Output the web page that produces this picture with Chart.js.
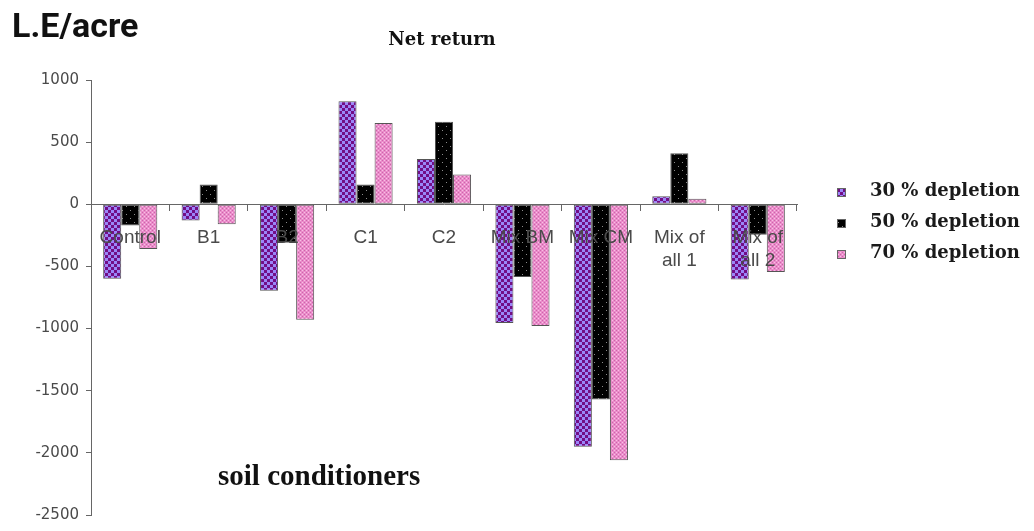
<!DOCTYPE html>
<html>
<head>
<meta charset="utf-8">
<script src="https://cdn.jsdelivr.net/npm/chart.js@4/dist/chart.umd.min.js"></script>
<style>
  html, body { margin: 0; padding: 0; background: #fff; }
  #wrap { width: 1034px; height: 531px; position: relative; }
</style>
</head>
<body>
<div id="wrap"><canvas id="c" width="1034" height="531"></canvas></div>
<script>
// Net return (L.E/acre) per soil conditioner and irrigation depletion level
const categories = ['Control', 'B1', 'B2', 'C1', 'C2', 'Mix BM', 'Mix CM', ['Mix of', 'all 1'], ['Mix of', 'all 2']];
const seriesNames = ['30 % depletion', '50 % depletion', '70 % depletion'];
const depletion30 = [-600, -130, -695, 830, 365, -955, -1950, 65, -605];
const depletion50 = [-170, 160, -310, 160, 665, -585, -1570, 410, -245];
const depletion70 = [-360, -160, -930, 655, 240, -980, -2060, 45, -545];
const yTicks = [1000, 500, 0, -500, -1000, -1500, -2000, -2500];

// small repeating fills for the bars
function makePattern(size, base, draw) {
  const c = document.createElement('canvas');
  c.width = c.height = size;
  const g = c.getContext('2d');
  g.fillStyle = base;
  g.fillRect(0, 0, size, size);
  draw(g);
  return g.createPattern(c, 'repeat');
}
const purpleFill = makePattern(6, '#9a86f8', g => {
  g.fillStyle = '#720e86';
  g.fillRect(0, 0, 3, 3);
  g.fillRect(3, 3, 3, 3);
});
const blackFill = makePattern(8, '#000000', g => {
  g.fillStyle = '#8c8c8c';
  g.fillRect(2, 2, 1, 1);
  g.fillRect(6, 6, 1, 1);
});
const pinkFill = makePattern(4, '#ea8cca', g => {
  g.fillStyle = '#f8c0e4';
  g.fillRect(0, 0, 1, 1);
  g.fillRect(2, 2, 1, 1);
  g.fillStyle = '#cc66aa';
  g.fillRect(2, 0, 1, 1);
  g.fillRect(0, 2, 1, 1);
});

// free-standing texts: axis unit, title, category caption
const chartTexts = {
  id: 'chartTexts',
  afterDraw(chart) {
    const ctx = chart.ctx;
    ctx.save();
    ctx.fillStyle = '#111';
    ctx.textBaseline = 'alphabetic';
    ctx.textAlign = 'left';
    ctx.font = 'bold 34px Roboto';
    ctx.fillText('L.E/acre', 12, 37);
    ctx.textAlign = 'center';
    ctx.font = 'bold 18px "DejaVu Serif"';
    ctx.fillText('Net return', 442, 45);
    ctx.textAlign = 'left';
    ctx.font = 'bold 29px "Liberation Serif"';
    ctx.fillText('soil conditioners', 218, 485);
    ctx.restore();
  }
};

// legend block on the right
const sideLegend = {
  id: 'sideLegend',
  afterDraw(chart) {
    const ctx = chart.ctx;
    ctx.save();
    ctx.font = 'bold 18px "DejaVu Serif"';
    ctx.textBaseline = 'middle';
    ctx.textAlign = 'left';
    chart.data.datasets.forEach((ds, i) => {
      const y = 191 + i * 31;
      ctx.fillStyle = ds.backgroundColor;
      ctx.fillRect(837, y - 3, 9, 9);
      ctx.strokeStyle = '#666';
      ctx.lineWidth = 1;
      ctx.strokeRect(837.5, y - 2.5, 8, 8);
      ctx.fillStyle = '#1a1a1a';
      ctx.fillText(ds.label, 870, y);
    });
    ctx.restore();
  }
};

const barStyle = { borderColor: '#555', borderWidth: 1, borderSkipped: false, categoryPercentage: 0.69, barPercentage: 1.0 };

new Chart(document.getElementById('c'), {
  type: 'bar',
  data: {
    labels: categories,
    datasets: [
      Object.assign({ label: seriesNames[0], data: depletion30, backgroundColor: purpleFill }, barStyle),
      Object.assign({ label: seriesNames[1], data: depletion50, backgroundColor: blackFill }, barStyle),
      Object.assign({ label: seriesNames[2], data: depletion70, backgroundColor: pinkFill }, barStyle)
    ]
  },
  options: {
    responsive: false,
    animation: false,
    devicePixelRatio: 1,
    layout: { padding: { left: 0, right: 237, top: 80, bottom: 13 } },
    plugins: { legend: { display: false }, title: { display: false }, tooltip: { enabled: false } },
    scales: {
      x: {
        type: 'category',
        position: { y: 0 },
        offset: true,
        grid: { drawOnChartArea: false, drawTicks: true, tickLength: 6, color: '#666', offset: true },
        border: { display: true, color: '#666', width: 1, z: 1 },
        ticks: {
          z: 1,
          color: '#4a4a4a',
          font: { family: 'Liberation Sans', size: 19 },
          padding: 16,
          maxRotation: 0,
          autoSkip: false
        }
      },
      y: {
        min: -2500,
        max: 1000,
        afterBuildTicks: s => { s.ticks = yTicks.map(v => ({ value: v })); },
        afterFit: s => { s.width = 91; },
        grid: { drawOnChartArea: false, tickLength: 5, color: '#666' },
        border: { color: '#666' },
        ticks: {
          color: '#4a4a4a',
          font: { family: 'DejaVu Sans', size: 15 },
          padding: 7,
          callback: v => String(v)
        }
      }
    }
  },
  plugins: [chartTexts, sideLegend]
});
</script>
</body>
</html>
